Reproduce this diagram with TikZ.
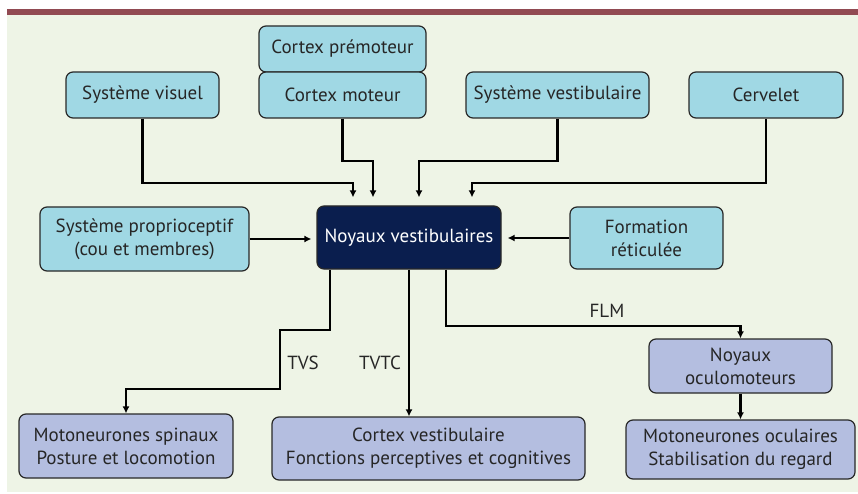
\documentclass[tikz,border=0pt]{standalone}
\usepackage{fontspec}
\setmainfont{PT Sans}
\usetikzlibrary{arrows.meta}

\definecolor{fond}{RGB}{238,244,230}
\definecolor{bandeau}{RGB}{145,74,82}
\definecolor{bleuclair}{RGB}{160,216,228}
\definecolor{lavande}{RGB}{180,190,224}
\definecolor{marine}{RGB}{10,30,78}
\definecolor{bord}{RGB}{40,40,40}

\tikzset{
    boite/.style={draw=bord, line width=1.2pt, rounded corners=7pt, align=center,
        font=\fontsize{19}{23}\selectfont, text=black!85, inner sep=0pt},
    entree/.style={boite, fill=bleuclair},
    sortie/.style={boite, fill=lavande},
    fleche/.style={line width=2.2pt, -{Latex[length=7pt,width=7pt]}},
    etiquette/.style={font=\fontsize{19}{23}\selectfont, text=black!85}
}

\begin{document}
\begin{tikzpicture}[x=1pt,y=1pt]
    \useasboundingbox (0,0) rectangle (858,493);
    \fill[fond] (7,1) rectangle (858,478);
    \fill[bandeau] (7,478) rectangle (858,484);

    % entrees
    \node[entree, minimum width=167pt, minimum height=46pt] (premot) at (342.5,444) {Cortex prémoteur};
    \node[entree, minimum width=167pt, minimum height=46pt] (moteur) at (342.5,398) {Cortex moteur};
    \node[entree, minimum width=153pt, minimum height=46pt] (visuel) at (142.5,398) {Système visuel};
    \node[entree, minimum width=183pt, minimum height=46pt] (vestib) at (557.5,398) {Système vestibulaire};
    \node[entree, minimum width=154pt, minimum height=46pt] (cervelet) at (766,398) {Cervelet};
    \node[entree, minimum width=209pt, minimum height=64pt] (proprio) at (144.5,254) {Système proprioceptif\\(cou et membres)};
    \node[entree, minimum width=153pt, minimum height=62pt] (reticul) at (646.5,255) {Formation\\réticulée};

    \node[boite, fill=marine, text=white, minimum width=184pt, minimum height=63pt] (noyaux) at (409,255.5) {Noyaux vestibulaires};

    % sorties
    \node[sortie, minimum width=183pt, minimum height=54pt] (oculo) at (740.5,127) {Noyaux\\oculomoteurs};
    \node[sortie, minimum width=214pt, minimum height=64pt] (spinaux) at (126,47) {Motoneurones spinaux\\Posture et locomotion};
    \node[sortie, minimum width=313pt, minimum height=63pt] (cortvest) at (428.5,44.5) {Cortex vestibulaire\\Fonctions perceptives et cognitives};
    \node[sortie, minimum width=229pt, minimum height=59pt] (oculaires) at (740.5,43.5) {Motoneurones oculaires\\Stabilisation du regard};

    \draw[fleche, shorten >=8pt] (visuel.south) |- ([xshift=-56pt]noyaux.north |- 0,310) -- ([xshift=-56pt]noyaux.north);
    \draw[fleche, shorten >=8pt] (moteur.south) |- ([xshift=-36pt]noyaux.north |- 0,332) -- ([xshift=-36pt]noyaux.north);
    \draw[fleche, shorten >=8pt] (vestib.south) |- ([xshift=10pt]noyaux.north |- 0,332) -- ([xshift=10pt]noyaux.north);
    \draw[fleche, shorten >=8pt] (cervelet.south) |- ([xshift=63pt]noyaux.north |- 0,310) -- ([xshift=63pt]noyaux.north);
    \draw[fleche, shorten >=5pt] (proprio.east) -- (proprio.east -| noyaux.west);
    \draw[fleche, shorten >=6pt] (reticul.west) -- (reticul.west -| noyaux.east);

    \draw[fleche] ([xshift=-79pt]noyaux.south) |- (280,163) |- (spinaux.north |- 0,104) -- (spinaux.north);
    \draw[fleche] (noyaux.south) -- (noyaux.south |- cortvest.north);
    \draw[fleche] ([xshift=37pt]noyaux.south) |- (oculo.north |- 0,167) -- (oculo.north);
    \draw[fleche] (oculo.south) -- (oculaires.north);

    \node[etiquette] (tvs) at (303,130) {TVS};
    \node[etiquette] (tvtc) at (380,130) {TVTC};
    \node[etiquette] (flm) at (607,182) {FLM};
\end{tikzpicture}
\end{document}
